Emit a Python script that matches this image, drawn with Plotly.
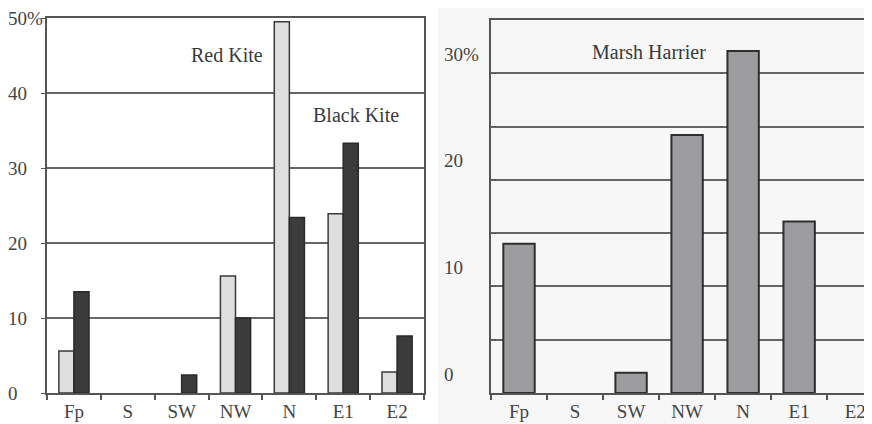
import plotly.graph_objects as go

categories = ["Fp", "S", "SW", "NW", "N", "E1", "E2"]
red_kite = [5.6, 0, 0, 15.6, 49.5, 23.9, 2.8]
black_kite = [13.5, 0, 2.4, 10.0, 23.4, 33.3, 7.6]
marsh_harrier = [14.0, 0, 1.9, 24.2, 32.1, 16.1, 0]

left_ticks = [0, 10, 20, 30, 40, 50]
left_ticktext = ["0", "10", "20", "30", "40", "50%"]
right_grid = [0, 5, 10, 15, 20, 25, 30, 35]
right_labels = [0, 10, 20, 30]
right_labeltext = ["0", "10", "20", "30%"]

# page body has an 8px margin; the figure fills the rest of the 872x424 window
OFF = 8
W, H = 872 - OFF, 424 - OFF
FONT = "Liberation Serif, Times New Roman, serif"
TXT = "#444444"


def px(x):
    return (x - OFF) / W


def py(y):
    return 1 - (y - OFF) / H


def nz(vals):
    return [v if v > 0 else None for v in vals]


fig = go.Figure()

fig.add_trace(go.Bar(x=categories, y=nz(red_kite), name="Red Kite", xaxis="x", yaxis="y",
                     marker=dict(color="#dedede", line=dict(color="#3a3a3a", width=1.5))))
fig.add_trace(go.Bar(x=categories, y=nz(black_kite), name="Black Kite", xaxis="x", yaxis="y",
                     marker=dict(color="#3b3b3b", line=dict(color="#2a2a2a", width=1.5))))
fig.add_trace(go.Bar(x=categories, y=nz(marsh_harrier), name="Marsh Harrier", xaxis="x2", yaxis="y2",
                     marker=dict(color="#9c9c9e", line=dict(color="#2e2e2e", width=2))))

axis_common = dict(showline=True, linecolor="#555555", linewidth=2,
                   tickfont=dict(family=FONT, size=19, color=TXT))

annotations = []
for v, t in zip(left_ticks, left_ticktext):
    annotations.append(dict(x=px(6), y=v, xref="paper", yref="y", text=t, showarrow=False,
                            xanchor="left", yanchor="middle",
                            font=dict(family=FONT, size=19, color=TXT)))
for v, t in zip(right_labels, right_labeltext):
    annotations.append(dict(x=px(442), y=v, xref="paper", yref="y2", text=t, showarrow=False,
                            xanchor="left", yanchor="middle", yshift=19,
                            font=dict(family=FONT, size=19, color=TXT)))

labels = [("Red Kite", 227, 55), ("Black Kite", 356, 115), ("Marsh Harrier", 649, 52)]
for t, x, y in labels:
    annotations.append(dict(x=px(x), y=py(y), xref="paper", yref="paper", text=t, showarrow=False,
                            xanchor="center", yanchor="middle",
                            font=dict(family=FONT, size=20, color="#3a3a3a")))

fig.update_layout(
    width=W, height=H,
    margin=dict(l=0, r=0, t=0, b=0),
    paper_bgcolor="white",
    plot_bgcolor="rgba(0,0,0,0)",
    showlegend=False,
    barmode="group",
    bargap=0.44,
    bargroupgap=0,
    xaxis=dict(domain=[px(47), px(424)], type="category", range=[-0.5, 6.5],
               ticks="outside", tickson="boundaries", ticklen=5, tickwidth=2, tickcolor="#555555",
               mirror=True, showgrid=False, anchor="y", **axis_common),
    yaxis=dict(domain=[py(393), py(18)], range=[0, 50], tickvals=left_ticks,
               showticklabels=False, ticks="outside", ticklen=4, tickcolor="#555555",
               showgrid=True, gridcolor="#666666", gridwidth=1.5, mirror=True,
               zeroline=False, anchor="x", **axis_common),
    xaxis2=dict(domain=[px(491), 1], type="category", range=[-0.5, 6.3],
                ticks="outside", tickson="boundaries", ticklen=5, tickwidth=2, tickcolor="#555555",
                mirror=True, showgrid=False, anchor="y2", **axis_common),
    yaxis2=dict(domain=[py(393), py(20)], range=[0, 35], tickvals=right_grid,
                showticklabels=False, ticks="inside", ticklen=5, tickcolor="#555555",
                showgrid=True, gridcolor="#666666", gridwidth=1.5,
                zeroline=False, anchor="x2", **axis_common),
    annotations=annotations,
    shapes=[dict(type="rect", xref="paper", yref="paper", x0=px(438), x1=1, y0=0, y1=1,
                 fillcolor="#f7f7f7", line=dict(width=0), layer="below")],
)

fig.write_html("out.html")
